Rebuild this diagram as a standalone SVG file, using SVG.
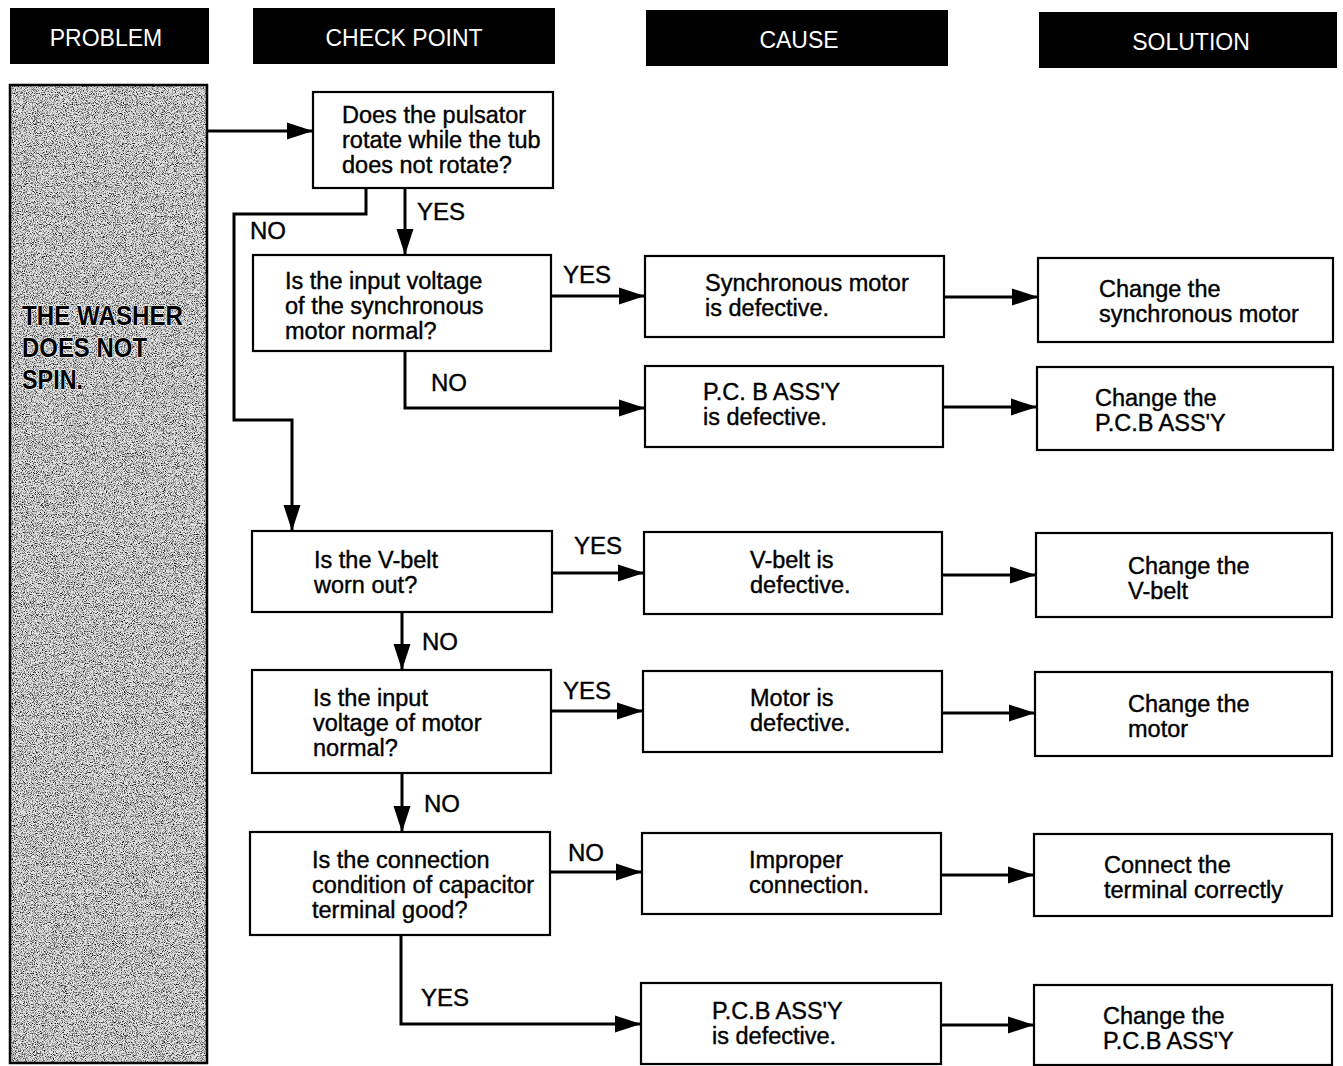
<svg xmlns="http://www.w3.org/2000/svg" width="1343" height="1066" viewBox="0 0 1343 1066">
<style>
.hdr{fill:#000}
.ht{fill:#fff;font-family:"Liberation Sans",Arial,sans-serif;font-size:23px;text-anchor:middle}
.box{fill:#fff;stroke:#000;stroke-width:2.2}
.t{font-family:"Liberation Sans",Arial,sans-serif;font-size:23.5px;fill:#000;stroke:#000;stroke-width:0.4}
.lbl{font-family:"Liberation Sans",Arial,sans-serif;font-size:24px;fill:#000;stroke:#000;stroke-width:0.4}
.c{fill:none;stroke:#000;stroke-width:3;marker-end:url(#ah)}
.pt{font-family:"Liberation Sans",Arial,sans-serif;font-size:28px;font-weight:bold;fill:#000;stroke:#fff;stroke-width:1.2;paint-order:stroke}
</style>
<defs>
<marker id="ah" markerUnits="userSpaceOnUse" markerWidth="27" markerHeight="20" refX="26" refY="10" orient="auto">
<path d="M0,1.5 L26,10 L0,18.5 z" fill="#000"/>
</marker>
<filter id="stip" x="0" y="0" width="100%" height="100%">
<feTurbulence type="fractalNoise" baseFrequency="1.1" numOctaves="2" seed="7" result="n"/>
<feColorMatrix in="n" type="matrix" values="0 0 0 0 0  0 0 0 0 0  0 0 0 0 0  -2.6 0 0 0 1.45"/>
<feComposite in2="SourceGraphic" operator="in"/>
</filter>
</defs>
<rect width="1343" height="1066" fill="#fff"/>

<g id="headers">
<rect class="hdr" x="10" y="8" width="199" height="56"/>
<text class="ht" x="106" y="46">PROBLEM</text>
<rect class="hdr" x="253" y="8" width="302" height="56"/>
<text class="ht" x="404" y="46">CHECK POINT</text>
<rect class="hdr" x="646" y="10" width="302" height="56"/>
<text class="ht" x="799" y="48">CAUSE</text>
<rect class="hdr" x="1039" y="12" width="298" height="56"/>
<text class="ht" x="1191" y="50">SOLUTION</text>
</g>

<g id="problem">
<rect x="10" y="85" width="197" height="978" fill="#e2e2e2"/>
<rect x="10" y="85" width="197" height="978" fill="#000" filter="url(#stip)"/>
<rect x="10" y="85" width="197" height="978" fill="none" stroke="#000" stroke-width="2.5"/>
<text class="pt" x="22" y="325" textLength="161" lengthAdjust="spacingAndGlyphs">THE WASHER</text>
<text class="pt" x="22" y="357" textLength="125" lengthAdjust="spacingAndGlyphs">DOES NOT</text>
<text class="pt" x="22" y="389" textLength="61" lengthAdjust="spacingAndGlyphs">SPIN.</text>
</g>

<g id="q1">
<rect class="box" x="313" y="92" width="240" height="96"/>
<text class="t" x="342" y="123">Does the pulsator</text>
<text class="t" x="342" y="148">rotate while the tub</text>
<text class="t" x="342" y="173">does not rotate?</text>
</g>
<g id="q2">
<rect class="box" x="253" y="255" width="298" height="96"/>
<text class="t" x="285" y="289">Is the input voltage</text>
<text class="t" x="285" y="314">of the synchronous</text>
<text class="t" x="285" y="339">motor normal?</text>
</g>
<g id="c1">
<rect class="box" x="645" y="256" width="299" height="81"/>
<text class="t" x="705" y="291">Synchronous motor</text>
<text class="t" x="705" y="316">is defective.</text>
</g>
<g id="s1">
<rect class="box" x="1038" y="258" width="295" height="84"/>
<text class="t" x="1099" y="297">Change the</text>
<text class="t" x="1099" y="322">synchronous motor</text>
</g>
<g id="c2">
<rect class="box" x="645" y="366" width="298" height="81"/>
<text class="t" x="703" y="400">P.C. B ASS'Y</text>
<text class="t" x="703" y="425">is defective.</text>
</g>
<g id="s2">
<rect class="box" x="1037" y="367" width="296" height="83"/>
<text class="t" x="1095" y="406">Change the</text>
<text class="t" x="1095" y="431">P.C.B ASS'Y</text>
</g>
<g id="q3">
<rect class="box" x="252" y="531" width="300" height="81"/>
<text class="t" x="314" y="568">Is the V-belt</text>
<text class="t" x="314" y="593">worn out?</text>
</g>
<g id="c3">
<rect class="box" x="644" y="532" width="298" height="82"/>
<text class="t" x="750" y="568">V-belt is</text>
<text class="t" x="750" y="593">defective.</text>
</g>
<g id="s3">
<rect class="box" x="1036" y="533" width="296" height="84"/>
<text class="t" x="1128" y="574">Change the</text>
<text class="t" x="1128" y="599">V-belt</text>
</g>
<g id="q4">
<rect class="box" x="252" y="670" width="299" height="103"/>
<text class="t" x="313" y="706">Is the input</text>
<text class="t" x="313" y="731">voltage of motor</text>
<text class="t" x="313" y="756">normal?</text>
</g>
<g id="c4">
<rect class="box" x="643" y="671" width="299" height="81"/>
<text class="t" x="750" y="706">Motor is</text>
<text class="t" x="750" y="731">defective.</text>
</g>
<g id="s4">
<rect class="box" x="1035" y="672" width="297" height="84"/>
<text class="t" x="1128" y="712">Change the</text>
<text class="t" x="1128" y="737">motor</text>
</g>
<g id="q5">
<rect class="box" x="250" y="832" width="300" height="103"/>
<text class="t" x="312" y="868">Is the connection</text>
<text class="t" x="312" y="893">condition of capacitor</text>
<text class="t" x="312" y="918">terminal good?</text>
</g>
<g id="c5">
<rect class="box" x="642" y="833" width="299" height="81"/>
<text class="t" x="749" y="868">Improper</text>
<text class="t" x="749" y="893">connection.</text>
</g>
<g id="s5">
<rect class="box" x="1034" y="834" width="298" height="82"/>
<text class="t" x="1104" y="873">Connect the</text>
<text class="t" x="1104" y="898">terminal correctly</text>
</g>
<g id="c6">
<rect class="box" x="641" y="983" width="300" height="81"/>
<text class="t" x="712" y="1019">P.C.B ASS'Y</text>
<text class="t" x="712" y="1044">is defective.</text>
</g>
<g id="s6">
<rect class="box" x="1034" y="985" width="298" height="80"/>
<text class="t" x="1103" y="1024">Change the</text>
<text class="t" x="1103" y="1049">P.C.B ASS'Y</text>
</g>

<g id="connectors">
<path class="c" d="M207,131 H313"/>
<path class="c" d="M366,188 V214 H234 V420 H292 V531"/>
<path class="c" d="M405,188 V255"/>
<path class="c" d="M551,296 H645"/>
<path class="c" d="M405,351 V408 H645"/>
<path class="c" d="M944,297 H1038"/>
<path class="c" d="M943,407 H1037"/>
<path class="c" d="M552,573 H644"/>
<path class="c" d="M942,575 H1036"/>
<path class="c" d="M402,612 V670"/>
<path class="c" d="M551,711 H643"/>
<path class="c" d="M942,713 H1035"/>
<path class="c" d="M402,773 V832"/>
<path class="c" d="M550,872 H642"/>
<path class="c" d="M941,875 H1034"/>
<path class="c" d="M401,935 V1024 H641"/>
<path class="c" d="M941,1025 H1034"/>
<text class="lbl" x="417" y="220">YES</text>
<text class="lbl" x="250" y="239">NO</text>
<text class="lbl" x="563" y="283">YES</text>
<text class="lbl" x="431" y="391">NO</text>
<text class="lbl" x="574" y="554">YES</text>
<text class="lbl" x="422" y="650">NO</text>
<text class="lbl" x="563" y="699">YES</text>
<text class="lbl" x="424" y="812">NO</text>
<text class="lbl" x="568" y="861">NO</text>
<text class="lbl" x="421" y="1006">YES</text>
</g>
</svg>
